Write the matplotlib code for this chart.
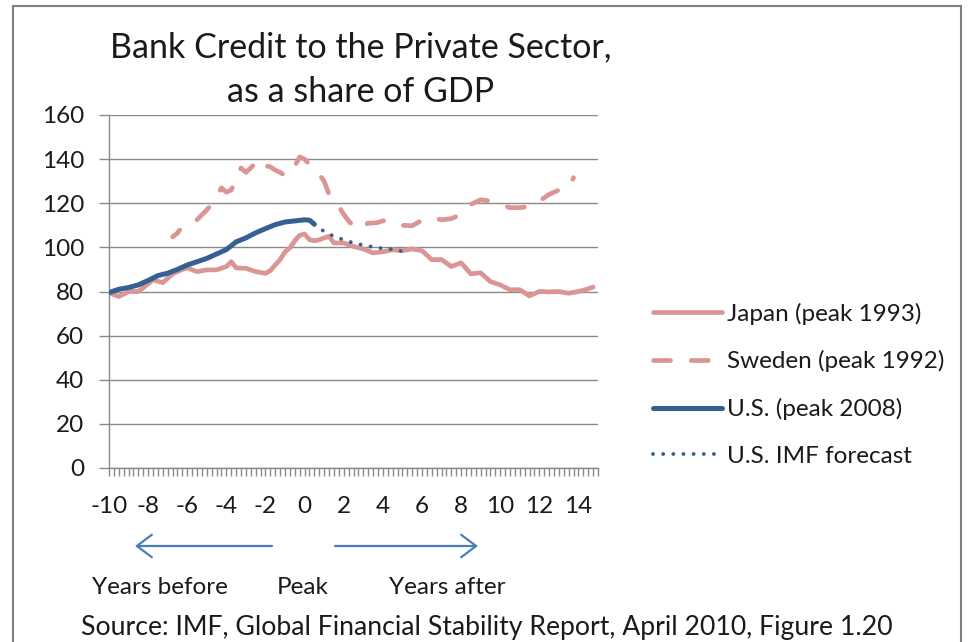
import matplotlib
matplotlib.use("Agg")
import matplotlib.pyplot as plt
from matplotlib.patches import Rectangle
from matplotlib.lines import Line2D

# ---------------- data ----------------
japan_x = [-10.0, -9.5, -9.0, -8.5, -8.25, -7.75, -7.25, -6.75, -6.25, -6.0, -5.5, -5.0,
           -4.5, -4.0, -3.75, -3.5, -3.0, -2.5, -2.0, -1.75, -1.25, -1.0, -0.75, -0.5,
           -0.25, 0.0, 0.25, 0.5, 0.75, 1.0, 1.25, 1.5, 2.0, 2.5, 3.0, 3.5, 4.0, 4.5,
           5.0, 5.5, 6.0, 6.5, 7.0, 7.5, 8.0, 8.5, 9.0, 9.5, 10.0, 10.5, 11.0, 11.5,
           12.0, 12.5, 13.0, 13.5, 14.0, 14.5, 14.75]
japan_y = [79.4, 77.7, 80.0, 80.0, 81.7, 85.3, 84.0, 88.0, 90.0, 90.7, 89.0, 89.8,
           89.8, 91.3, 93.5, 90.7, 90.5, 89.0, 88.2, 89.5, 94.5, 98.0, 99.8, 103.0,
           105.5, 106.0, 103.5, 103.0, 103.4, 104.3, 105.0, 102.0, 102.0, 100.4, 99.3, 97.5, 98.0, 98.9,
           98.5, 99.3, 98.5, 94.4, 94.5, 91.3, 93.0, 88.0, 88.5, 84.5, 83.0, 80.8, 80.8, 78.0,
           80.0, 79.8, 80.0, 79.2, 80.0, 81.2, 82.0]

sweden_x = [-6.75, -6.5, -6.25, -6.0, -5.5, -5.0, -4.75, -4.5, -4.25, -4.0, -3.75, -3.5,
            -3.25, -3.0, -2.75, -2.5, -2.25, -2.0, -1.75, -1.5, -1.25, -1.0, -0.75, -0.5,
            -0.25, 0.0, 0.25, 0.5, 0.75, 1.0, 1.25, 1.5, 1.75, 2.0, 2.25, 2.5, 2.75, 3.0,
            3.25, 3.5, 3.75, 4.0, 4.25, 4.5, 4.75, 5.0, 5.5, 6.0, 6.5, 7.0, 7.5, 8.0, 8.5,
            9.0, 9.5, 10.0, 10.5, 11.0, 11.5, 12.0, 12.5, 13.0, 13.5, 13.75]
sweden_y = [104.8, 106.5, 109.5, 111.0, 112.5, 117.0, 119.5, 123.0, 127.0, 125.0, 126.0, 131.0,
            136.0, 134.0, 136.0, 138.5, 140.0, 137.0, 136.5, 135.0, 134.0, 132.5, 133.0, 137.0,
            141.0, 140.0, 137.5, 135.5, 133.0, 130.0, 124.0, 121.0, 118.5, 115.0, 112.0, 109.5, 108.0, 109.5,
            111.0, 111.0, 111.3, 112.0, 112.3, 111.0, 110.5, 110.0, 109.8, 112.3, 113.5, 112.5, 113.0, 115.0, 119.5,
            121.6, 121.0, 119.5, 118.0, 118.0, 118.5, 121.0, 124.0, 126.0, 127.0, 131.6]

us_x = [-10.0, -9.5, -9.0, -8.5, -8.0, -7.5, -7.0, -6.5, -6.0, -5.5, -5.0, -4.5, -4.0,
        -3.5, -3.0, -2.5, -2.0, -1.5, -1.0, -0.5, 0.0, 0.25, 0.5]
us_y = [79.5, 81.0, 81.8, 83.0, 85.0, 87.2, 88.3, 90.0, 92.0, 93.5, 95.0, 97.0, 99.0,
        102.5, 104.3, 106.6, 108.5, 110.3, 111.5, 112.0, 112.5, 112.3, 110.5]

fc_x = [0.5, 1.0, 1.5, 2.0, 2.5, 3.0, 3.5, 4.0, 4.5, 5.25]
fc_y = [110.3, 107.2, 105.0, 103.4, 102.0, 101.0, 100.2, 99.5, 99.1, 97.8]

y_ticks = [0, 20, 40, 60, 80, 100, 120, 140, 160]
x_ticks = [-10, -8, -6, -4, -2, 0, 2, 4, 6, 8, 10, 12, 14]

labels = ["Japan (peak 1993)", "Sweden (peak 1992)", "U.S. (peak 2008)", "U.S. IMF forecast"]
title_lines = ["Bank Credit to the Private Sector,", "as a share of GDP"]
source = "Source: IMF, Global Financial Stability Report, April 2010, Figure 1.20"

# ---------------- style ----------------
FONT = ["Lato", "DejaVu Sans"]
plt.rcParams["font.family"] = FONT
TXT = "#1a1a1a"
PINK = "#DA9694"
BLUE = "#376092"
GRID = "#8a8a8a"
ARROW = "#4A7EBB"

W, H = 968, 642
fig = plt.figure(figsize=(W / 100, H / 100), dpi=100)

def fx(px):
    return px / W

def fy(py):
    return 1 - py / H

ax = fig.add_axes([fx(109), fy(468), fx(598) - fx(109), fy(115) - fy(468)])
ax.set_xlim(-10, 15)
ax.set_ylim(0, 160)

lw = 3.4
l_jp, = ax.plot(japan_x, japan_y, color=PINK, lw=lw, solid_capstyle="round",
                solid_joinstyle="round", zorder=3)
ax.plot(sweden_x, sweden_y, color=PINK, lw=lw, linestyle=(1.5, (3.6, 4.4)), dash_capstyle="round",
        dash_joinstyle="round", zorder=3)
l_us, = ax.plot(us_x, us_y, color=BLUE, lw=3.6, solid_capstyle="round", solid_joinstyle="round",
                zorder=4)
l_fc, = ax.plot(fc_x, fc_y, color=BLUE, lw=2.8, linestyle=(0, (0.01, 2.6)), dash_capstyle="round",
                zorder=4)
h_sw = Line2D([], [], color=PINK, lw=lw, linestyle=(0, (3.6, 4.4)), dash_capstyle="round")

for s in ["top", "right"]:
    ax.spines[s].set_visible(False)
for s in ["left", "bottom"]:
    ax.spines[s].set_color(GRID)
    ax.spines[s].set_linewidth(1.0)

ax.set_yticks(y_ticks)
ax.set_yticklabels([str(v) for v in y_ticks])
ax.set_xticks(x_ticks)
ax.set_xticklabels([str(v) for v in x_ticks])
ax.set_xticks([-10 + 0.25 * i for i in range(101)], minor=True)
ax.tick_params(axis="y", length=7, width=1, color=GRID, labelsize=17.5, labelcolor=TXT, pad=11)
ax.tick_params(axis="x", which="both", length=6, width=1, color=GRID, labelsize=17.5,
               labelcolor=TXT, pad=14)
ax.yaxis.grid(True, color=GRID, lw=1.0)
ax.set_axisbelow(True)

leg = ax.legend([l_jp, h_sw, l_us, l_fc], labels, loc="upper left",
                bbox_to_anchor=(fx(643), fy(293)), bbox_transform=fig.transFigure,
                frameon=False, fontsize=17.5, handlelength=2.85, handletextpad=0.2,
                labelspacing=1.05, borderaxespad=0)
for t in leg.get_texts():
    t.set_color(TXT)

fig.text(fx(361), fy(47), title_lines[0], ha="center", va="center", fontsize=24.5, color=TXT)
fig.text(fx(361), fy(92), title_lines[1], ha="center", va="center", fontsize=24.5, color=TXT)

ax.annotate("", xy=(135, H - 546), xytext=(272, H - 546), xycoords="figure pixels",
            textcoords="figure pixels",
            arrowprops=dict(arrowstyle="->,head_length=0.6,head_width=0.45", color=ARROW, lw=1.6,
                            shrinkA=0, shrinkB=0, mutation_scale=18))
ax.annotate("", xy=(478, H - 546), xytext=(335, H - 546), xycoords="figure pixels",
            textcoords="figure pixels",
            arrowprops=dict(arrowstyle="->,head_length=0.6,head_width=0.45", color=ARROW, lw=1.6,
                            shrinkA=0, shrinkB=0, mutation_scale=18))

fig.text(fx(160), fy(587), "Years before", ha="center", va="center", fontsize=17.5, color=TXT)
fig.text(fx(303), fy(587), "Peak", ha="center", va="center", fontsize=17.5, color=TXT)
fig.text(fx(447), fy(587), "Years after", ha="center", va="center", fontsize=17.5, color=TXT)
fig.text(fx(487), fy(627), source, ha="center", va="center", fontsize=19.2, color=TXT)

fig.add_artist(Rectangle((fx(13), -0.1), fx(961) - fx(13), fy(6) + 0.1, transform=fig.transFigure,
                         fill=False, ec="#808080", lw=1.5))

fig.savefig("out.png", dpi=100)
